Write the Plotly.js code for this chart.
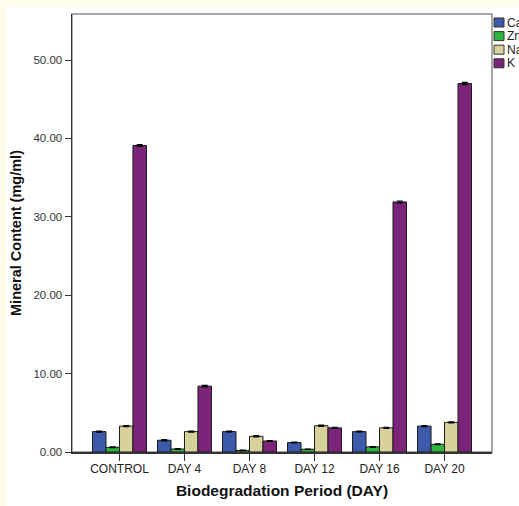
<!DOCTYPE html>
<html>
<head>
<meta charset="utf-8">
<script src="https://cdn.plot.ly/plotly-3.0.1.min.js"></script>
<style>
  html, body { margin: 0; padding: 0; background: #FFFBEA; width: 519px; height: 506px; overflow: hidden; }
  #chart { position: absolute; left: 6px; top: 7px; width: 513px; height: 499px; background: #ffffff; }
</style>
</head>
<body>
<div id="chart"></div>
<script>
const categories = ["CONTROL", "DAY 4", "DAY 8", "DAY 12", "DAY 16", "DAY 20"];
const seriesNames = ["Ca", "Zn", "Na", "K"];
const caValues = [2.6, 1.5, 2.6, 1.2, 2.6, 3.3];
const znValues = [0.6, 0.38, 0.2, 0.35, 0.65, 0.98];
const naValues = [3.3, 2.6, 2.0, 3.35, 3.08, 3.78];
const kValues  = [39.1, 8.4, 1.4, 3.08, 31.9, 47.0];
const caErr = [0.08, 0.08, 0.05, 0.05, 0.05, 0.08];
const znErr = [0.05, 0.05, 0.03, 0.03, 0.05, 0.05];
const naErr = [0.08, 0.08, 0.08, 0.08, 0.08, 0.08];
const kErr  = [0.12, 0.1, 0.05, 0.08, 0.12, 0.15];
const yTicks = [0, 10, 20, 30, 40, 50];
const colors = ["#3D5AAB", "#2DB53D", "#D7D29B", "#7B2479"];

const values = [caValues, znValues, naValues, kValues];
const errs = [caErr, znErr, naErr, kErr];

const traces = seriesNames.map((name, i) => ({
  type: "bar",
  name: name,
  x: categories,
  y: values[i],
  marker: { color: colors[i], line: { color: "#1a1a1a", width: 1 } },
  error_y: { type: "data", array: errs[i], visible: true, color: "#000", thickness: 1.2, width: 3 },
  showlegend: false,
  hoverinfo: "x+y+name"
}));

// compact legend as in the reference (labels run past the right edge there too)
const plotW = 420, plotH = 438;
const shapes = [
  { type: "rect", xref: "paper", yref: "paper", x0: 0, x1: 1, y0: 0, y1: 1,
    line: { color: "#8c8c8c", width: 1.5 }, layer: "below" }
];
const annotations = [];
seriesNames.forEach((name, i) => {
  const top = 18 + i * 13.6 - 14;
  const bx0 = (494 - 72) / plotW, bx1 = (504 - 72) / plotW;
  const y0 = 1 - (top + 9) / plotH, y1 = 1 - top / plotH;
  shapes.push({ type: "rect", xref: "paper", yref: "paper", x0: bx0, x1: bx1, y0: y0, y1: y1,
    fillcolor: colors[i], line: { color: "#333", width: 1 } });
  annotations.push({ xref: "paper", yref: "paper", x: (505 - 72) / plotW, y: (y0 + y1) / 2,
    xanchor: "left", yanchor: "middle", text: name, showarrow: false,
    font: { size: 12, color: "#222", family: "Arial, Liberation Sans, sans-serif" } });
});

const layout = {
  width: 513, height: 499,
  margin: { l: 66, r: 27, t: 7, b: 54, autoexpand: false },
  paper_bgcolor: "#ffffff", plot_bgcolor: "#ffffff",
  font: { family: "Arial, Liberation Sans, sans-serif", size: 12, color: "#222" },
  barmode: "group", bargap: 0.17, bargroupgap: 0,
  xaxis: {
    type: "category", range: [-0.73, 5.73],
    showline: true, linecolor: "#333", linewidth: 1.5,
    ticks: "outside", ticklen: 7, tickcolor: "#333", tickwidth: 1,
    ticklabelstandoff: -2,
    showgrid: false, zeroline: false,
    tickfont: { size: 12, color: "#222" },
    title: { text: "Biodegradation Period (DAY)", font: { size: 15.5, color: "#111", weight: "bold" }, standoff: 10 },
    automargin: false
  },
  yaxis: {
    range: [0, 55.87],
    tickvals: yTicks, ticktext: yTicks.map(v => v.toFixed(2)),
    showline: true, linecolor: "#333", linewidth: 1.5,
    ticks: "outside", ticklen: 6, tickcolor: "#333", tickwidth: 1,
    showgrid: false, zeroline: false,
    tickfont: { size: 11.5, color: "#333" },
    title: { text: "Mineral Content (mg/ml)", font: { size: 14.5, color: "#111", weight: "bold" }, standoff: 8 },
    automargin: false
  },
  shapes: shapes,
  annotations: annotations
};

Plotly.newPlot("chart", traces, layout, { displayModeBar: false, staticPlot: true });
</script>
</body>
</html>
